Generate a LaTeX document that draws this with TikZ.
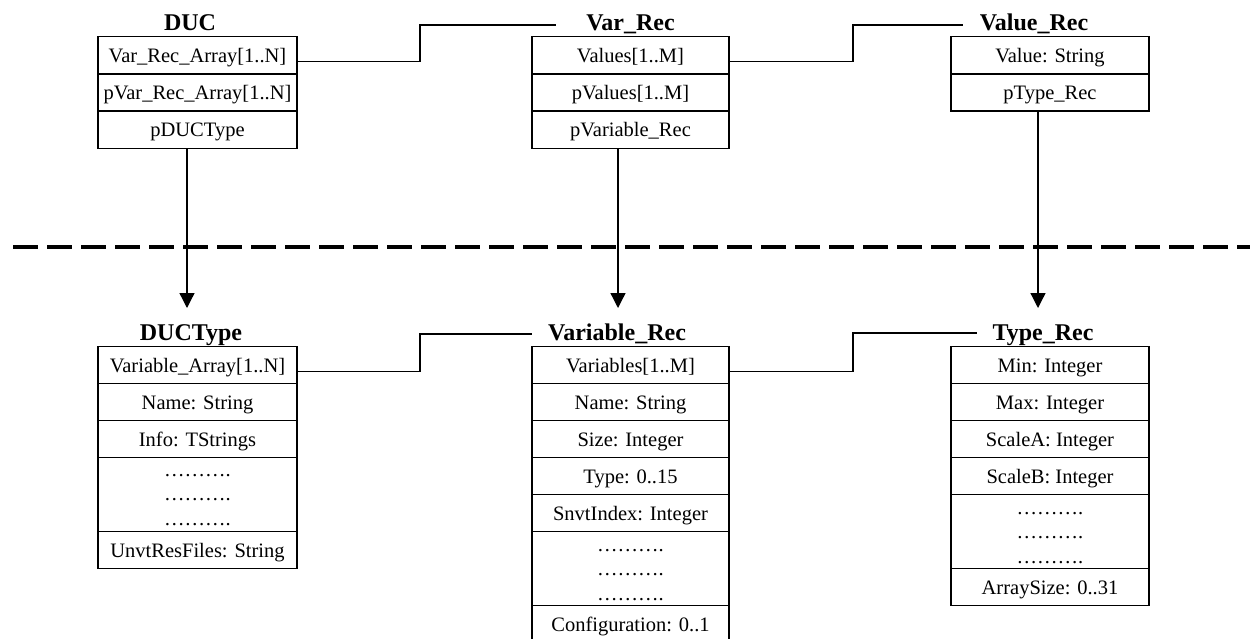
\documentclass[tikz,border=0pt]{standalone}
\usepackage{fontspec}
\setmainfont{Liberation Serif}
\usetikzlibrary{arrows.meta}
\begin{document}
\begin{tikzpicture}[x=1pt,y=-1pt,
  cell/.style={draw, line width=1.4pt, inner sep=0pt, anchor=north, minimum height=37pt, text height=14pt, text depth=0pt, font=\fontsize{20.5}{24.5}\selectfont},
  lcell/.style={cell, minimum width=199pt},
  mcell/.style={cell, minimum width=197pt},
  rcell/.style={cell, minimum width=198pt},
  title/.style={anchor=base, inner sep=0pt, font=\fontsize{24}{28}\selectfont\bfseries},
  dotsrow/.style={anchor=base, inner sep=0pt, align=center, font=\fontsize{20.5}{24.5}\selectfont},
  link/.style={line width=1.3pt},
  ptr/.style={line width=1.3pt, -{Triangle[width=15pt,length=15pt]}},
  divider/.style={line width=4pt, dash pattern=on 25pt off 9pt},
]
\useasboundingbox (0,0) rectangle (1250,639);

% dashed divider
\coordinate (dl) at (13,247);
\coordinate (dr) at (1250,247);
\draw[divider] (dl) -- (dr);

% DUC
\node[title] (tduc) at (190,31) {DUC};
\node[lcell] (duc1) at (197.5,36) {Var\_Rec\_Array[1..N]};
\node[lcell] (duc2) at (197.5,73.3) {pVar\_Rec\_Array[1..N]};
\node[lcell] (duc3) at (197.5,110.7) {pDUCType};

% Var_Rec
\node[title] (tvr) at (630.5,31) {Var\_Rec};
\node[mcell] (vr1) at (630.5,36) {Values[1..M]};
\node[mcell] (vr2) at (630.5,73.3) {pValues[1..M]};
\node[mcell] (vr3) at (630.5,110.7) {pVariable\_Rec};

% Value_Rec
\node[title] (tval) at (1034,31) {Value\_Rec};
\node[rcell] (val1) at (1050,36) {Value: String};
\node[rcell] (val2) at (1050,73.3) {pType\_Rec};

% DUCType
\node[title] (tdt) at (191,340) {DUCType};
\node[lcell] (dt1) at (197.5,346) {Variable\_Array[1..N]};
\node[lcell] (dt2) at (197.5,383) {Name: String};
\node[lcell] (dt3) at (197.5,420) {Info: TStrings};
\node[lcell, minimum height=74pt] (dt4) at (197.5,457) {};
\node[lcell] (dt5) at (197.5,531) {UnvtResFiles: String};
\node[dotsrow] (dtd) at (197.5,525) {……….\\……….\\……….};

% Variable_Rec
\node[title] (tvc) at (617,340) {Variable\_Rec};
\node[mcell] (vc1) at (630.5,346) {Variables[1..M]};
\node[mcell] (vc2) at (630.5,383) {Name: String};
\node[mcell] (vc3) at (630.5,420) {Size: Integer};
\node[mcell] (vc4) at (630.5,457) {Type: 0..15};
\node[mcell] (vc5) at (630.5,494) {SnvtIndex: Integer};
\node[mcell, minimum height=74pt] (vc6) at (630.5,531) {};
\node[mcell, minimum height=40pt] (vc7) at (630.5,605) {};
\node[cell, draw=none] (vc7t) at (630.5,605) {Configuration: 0..1};
\node[dotsrow] (vcd) at (630.5,600) {……….\\……….\\……….};

% Type_Rec
\node[title] (ttr) at (1043,340) {Type\_Rec};
\node[rcell] (tr1) at (1050,346) {Min: Integer};
\node[rcell] (tr2) at (1050,383) {Max: Integer};
\node[rcell] (tr3) at (1050,420) {ScaleA: Integer};
\node[rcell] (tr4) at (1050,457) {ScaleB: Integer};
\node[rcell, minimum height=74pt] (tr5) at (1050,494) {};
\node[rcell] (tr6) at (1050,568) {ArraySize: 0..31};
\node[dotsrow] (trd) at (1050,563) {……….\\……….\\……….};

% pointer arrows
\coordinate (a1) at (187,308);
\coordinate (a2) at (618,308);
\coordinate (a3) at (1038,308);
\draw[ptr] (duc3.south -| a1) -- (a1);
\draw[ptr] (vr3.south -| a2) -- (a2);
\draw[ptr] (val2.south -| a3) -- (a3);

% array links
\coordinate (k1) at (420,25);  \coordinate (e1) at (556,25);
\coordinate (k2) at (853,25);  \coordinate (e2) at (963,25);
\coordinate (k3) at (420,334); \coordinate (e3) at (532,334);
\coordinate (k4) at (853,333); \coordinate (e4) at (977,333);
\draw[link] ([yshift=-6pt]duc1.east) -| (k1) -- (e1);
\draw[link] ([yshift=-6pt]vr1.east) -| (k2) -- (e2);
\draw[link] ([yshift=-6pt]dt1.east) -| (k3) -- (e3);
\draw[link] ([yshift=-6pt]vc1.east) -| (k4) -- (e4);
\end{tikzpicture}
\end{document}
